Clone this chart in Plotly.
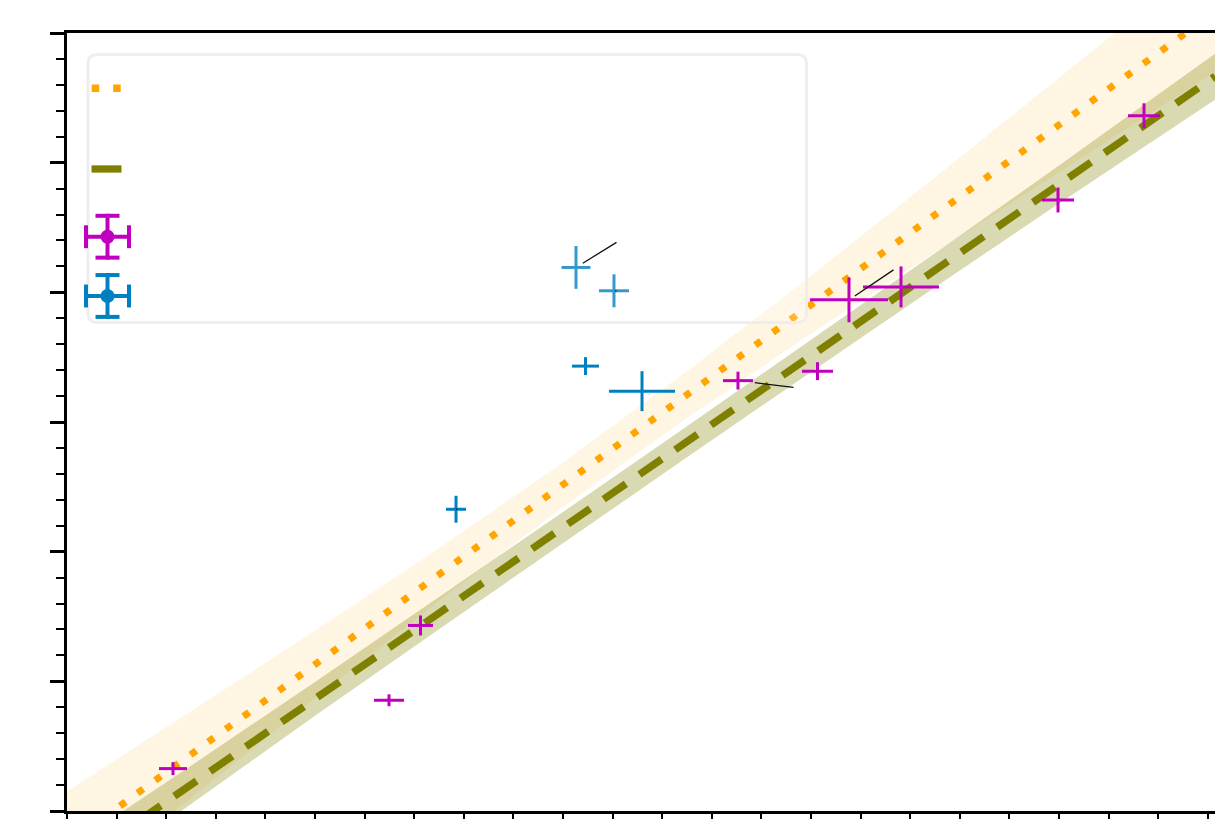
import plotly.graph_objects as go

# ---------------- data (arbitrary units) ----------------
x_fit = [0.0, 2.5, 5.0, 7.5, 10.0, 12.5, 15.0, 17.5, 20.0, 22.5, 23.15]
orange_fit = [-0.257, 0.436, 1.130, 1.823, 2.517, 3.210, 3.904, 4.597, 5.291, 5.984, 6.165]
orange_upper = [0.151, 0.768, 1.391, 2.027, 2.688, 3.391, 4.128, 4.885, 5.652, 6.424, 6.623]
orange_lower = [-0.665, 0.105, 0.869, 1.621, 2.345, 3.031, 3.681, 4.308, 4.928, 5.544, 5.702]
olive_fit = [-0.458, 0.204, 0.865, 1.526, 2.187, 2.849, 3.510, 4.171, 4.833, 5.494, 5.666]
olive_upper = [-0.289, 0.349, 0.995, 1.648, 2.306, 2.967, 3.632, 4.302, 4.978, 5.662, 5.841]
olive_lower = [-0.627, 0.057, 0.734, 1.402, 2.068, 2.728, 3.386, 4.040, 4.685, 5.322, 5.487]

magenta_x = [2.137, 6.492, 7.127, 13.528, 15.131, 15.766, 16.815, 19.980, 21.714]
magenta_y = [0.327, 0.854, 1.431, 3.319, 3.392, 3.942, 4.042, 4.712, 5.362]
magenta_xerr = [0.282, 0.302, 0.252, 0.302, 0.313, 0.786, 0.766, 0.323, 0.323]
magenta_yerr = [0.050, 0.046, 0.077, 0.069, 0.069, 0.173, 0.158, 0.096, 0.096]

blue_x = [7.843, 10.262, 11.028, 10.454, 11.593]
blue_y = [2.327, 4.192, 4.012, 3.431, 3.238]
blue_xerr = [0.202, 0.292, 0.302, 0.272, 0.665]
blue_yerr = [0.104, 0.165, 0.127, 0.069, 0.154]

# annotation leader lines: (series, index, ax, ay, standoff)
leaders = [("b", 0, 3, 0, 0), ("b", 1, 42, -26, 8), ("b", 2, 4, 0, 1),
           ("b", 4, 9, 4, 8), ("m", 3, 57, 7, 17), ("m", 5, 46, -31, 7)]

# ---------------- figure geometry ----------------
W, H = 1215, 819
ML, MR, MT, MB = 67, 0, 33, 5
PW, PH = W - ML - MR, H - MT - MB

ORANGE = "#ffa500"
OLIVE = "#808000"
MAGENTA = "#bf00bf"
BLUE = "#0080c0"

fig = go.Figure()

# orange band + line
fig.add_trace(go.Scatter(x=x_fit, y=orange_lower, mode="lines", line=dict(width=0),
                         hoverinfo="skip", showlegend=False))
fig.add_trace(go.Scatter(x=x_fit, y=orange_upper, mode="lines", line=dict(width=0),
                         fill="tonexty", fillcolor="rgba(255,165,0,0.11)",
                         hoverinfo="skip", showlegend=False))
fig.add_trace(go.Scatter(x=x_fit, y=orange_fit, mode="lines",
                         line=dict(color=ORANGE, width=7, dash="7px,14.8px"),
                         showlegend=False))
# olive band + line
fig.add_trace(go.Scatter(x=x_fit, y=olive_lower, mode="lines", line=dict(width=0),
                         hoverinfo="skip", showlegend=False))
fig.add_trace(go.Scatter(x=x_fit, y=olive_upper, mode="lines", line=dict(width=0),
                         fill="tonexty", fillcolor="rgba(128,128,0,0.3)",
                         hoverinfo="skip", showlegend=False))
fig.add_trace(go.Scatter(x=x_fit, y=olive_fit, mode="lines",
                         line=dict(color=OLIVE, width=7.5, dash="27px,16.5px"),
                         showlegend=False))


def err_trace(xs, ys, xe, ye, color):
    return go.Scatter(
        x=xs, y=ys, mode="markers",
        marker=dict(size=1, color="rgba(0,0,0,0)"),
        error_x=dict(type="data", array=xe, symmetric=True, width=0, thickness=3, color=color),
        error_y=dict(type="data", array=ye, symmetric=True, width=0, thickness=3, color=color),
        showlegend=False)


fig.add_trace(err_trace(magenta_x, magenta_y, magenta_xerr, magenta_yerr, MAGENTA))
fig.add_trace(err_trace(blue_x, blue_y, blue_xerr, blue_yerr, BLUE))

# leader lines (annotations whose text is empty)
annotations = []
for ser, i, ax, ay, so in leaders:
    xs, ys = (blue_x, blue_y) if ser == "b" else (magenta_x, magenta_y)
    annotations.append(dict(x=xs[i], y=ys[i], xref="x", yref="y", text=" ",
                            font=dict(size=1), showarrow=True, arrowhead=0,
                            arrowwidth=1.3, arrowcolor="#111111", ax=ax, ay=ay,
                            standoff=so, startstandoff=0))


# ---------------- manual legend ----------------
def px(xp):
    return (xp - ML) / PW


def py(yp):
    return (H - MB - yp) / PH


shapes = []
# legend frame (rounded rectangle)
x0, x1, y0, y1, r = 88, 806.5, 54.5, 323.5, 9
rx, ry = r / PW, r / PH
path = (f"M{px(x0)+rx},{py(y0)} L{px(x1)-rx},{py(y0)} Q{px(x1)},{py(y0)} {px(x1)},{py(y0)-ry} "
        f"L{px(x1)},{py(y1)+ry} Q{px(x1)},{py(y1)} {px(x1)-rx},{py(y1)} "
        f"L{px(x0)+rx},{py(y1)} Q{px(x0)},{py(y1)} {px(x0)},{py(y1)+ry} "
        f"L{px(x0)},{py(y0)-ry} Q{px(x0)},{py(y0)} {px(x0)+rx},{py(y0)} Z")
shapes.append(dict(type="path", path=path, xref="paper", yref="paper",
                   line=dict(color="#eeeeee", width=3), fillcolor="rgba(255,255,255,0.2)",
                   layer="above"))
# orange dotted sample
shapes.append(dict(type="line", xref="paper", yref="paper", x0=px(91.7), x1=px(121.5),
                   y0=py(88.5), y1=py(88.5), line=dict(color=ORANGE, width=7.5, dash="7.5px,14px"),
                   layer="above"))
# olive dashed sample
shapes.append(dict(type="line", xref="paper", yref="paper", x0=px(91.5), x1=px(121.5),
                   y0=py(169.5), y1=py(169.5), line=dict(color=OLIVE, width=7.3), layer="above"))


def legend_errbar(cy, color):
    cx = 107.5
    lw = 4
    out = []
    out.append(dict(type="line", xref="paper", yref="paper", x0=px(84), x1=px(131),
                    y0=py(cy), y1=py(cy), line=dict(color=color, width=lw), layer="above"))
    out.append(dict(type="line", xref="paper", yref="paper", x0=px(cx), x1=px(cx),
                    y0=py(cy - 23), y1=py(cy + 23), line=dict(color=color, width=lw), layer="above"))
    for xx in (86, 129):
        out.append(dict(type="line", xref="paper", yref="paper", x0=px(xx), x1=px(xx),
                        y0=py(cy - 11.5), y1=py(cy + 11.5), line=dict(color=color, width=lw),
                        layer="above"))
    for yy in (cy - 21, cy + 21):
        out.append(dict(type="line", xref="paper", yref="paper", x0=px(cx - 12), x1=px(cx + 12),
                        y0=py(yy), y1=py(yy), line=dict(color=color, width=lw), layer="above"))
    rr = 7
    out.append(dict(type="circle", xref="paper", yref="paper", x0=px(cx - rr), x1=px(cx + rr),
                    y0=py(cy - rr), y1=py(cy + rr), fillcolor=color, line=dict(width=0),
                    layer="above"))
    return out


shapes += legend_errbar(237.5, MAGENTA)
shapes += legend_errbar(297, BLUE)

fig.update_layout(
    width=W, height=H,
    margin=dict(l=ML, r=MR, t=MT, b=MB, pad=0),
    paper_bgcolor="white", plot_bgcolor="white",
    showlegend=False,
    shapes=shapes,
    annotations=annotations,
    xaxis=dict(range=[0, PW / 49.6], showgrid=False, zeroline=False, showline=True,
               linecolor="black", linewidth=2.5, mirror=True, ticks="outside",
               ticklen=8, tickwidth=1.5, tickcolor="black", tick0=0, dtick=1,
               showticklabels=False),
    yaxis=dict(range=[0, 6], showgrid=False, zeroline=False, showline=True,
               linecolor="black", linewidth=2.5, mirror=False, ticks="outside",
               ticklen=14, tickwidth=2.5, tickcolor="black", tick0=0, dtick=1,
               showticklabels=False,
               minor=dict(dtick=0.2, ticks="outside", ticklen=8, tickwidth=2, tickcolor="black")),
)

fig.write_html(
    "out.html",
    config={"displayModeBar": False},
    post_script="document.body.style.margin='0';document.body.style.overflow='hidden';"
                "document.documentElement.style.overflow='hidden';",
)
